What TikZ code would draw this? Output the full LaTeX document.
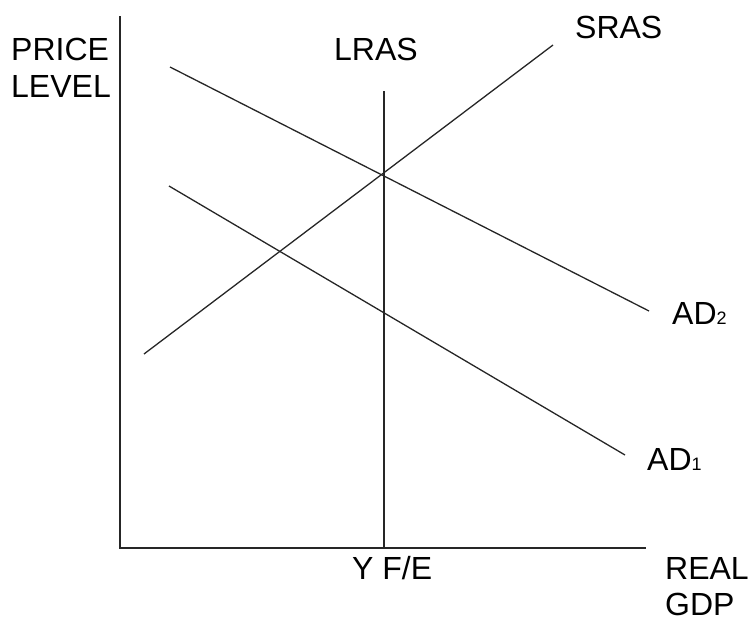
\documentclass[tikz,border=0pt]{standalone}
\usepackage{fontspec}
\setmainfont{Liberation Sans}
\begin{document}
\begin{tikzpicture}[x=1pt,y=-1pt,
  lbl/.style={anchor=base west,inner sep=0pt,font=\fontsize{32}{38}\selectfont},
  curve/.style={line width=1.3pt,draw=black!85},
  axis/.style={line width=1.5pt,draw=black!85}]
\useasboundingbox (0,0) rectangle (750,622);
% axes
\coordinate (ytop) at (120,16);
\coordinate (origin) at (120,548);
\coordinate (xend) at (646,548);
\draw[axis] (ytop) -- (origin) -- (xend);
% LRAS
\coordinate (lrasT) at (384,91);
\coordinate (lrasB) at (384,548);
\draw[curve] (lrasT) -- (lrasB);
% SRAS
\coordinate (srasA) at (144,354);
\coordinate (srasB) at (553,45);
\draw[curve] (srasA) -- (srasB);
% AD2
\coordinate (adtwoA) at (170,67);
\coordinate (adtwoB) at (649,311);
\draw[curve] (adtwoA) -- (adtwoB);
% AD1
\coordinate (adoneA) at (169,186);
\coordinate (adoneB) at (625,455);
\draw[curve] (adoneA) -- (adoneB);
% labels
\node[lbl] (price) at (11,60) {PRICE};
\node[lbl] (level) at (11,97) {LEVEL};
\node[lbl] (lras) at (334,60) {LRAS};
\node[lbl] (sras) at (575,38) {SRAS};
\node[lbl] (adtwo) at (672,324) {AD{\fontsize{18}{20}\selectfont 2}};
\node[lbl] (adone) at (647,470) {AD{\fontsize{18}{20}\selectfont 1}};
\node[lbl] (yfe) at (352,579) {Y F/E};
\node[lbl] (real) at (665,579) {REAL};
\node[lbl] (gdp) at (665,615) {GDP};
\end{tikzpicture}
\end{document}
